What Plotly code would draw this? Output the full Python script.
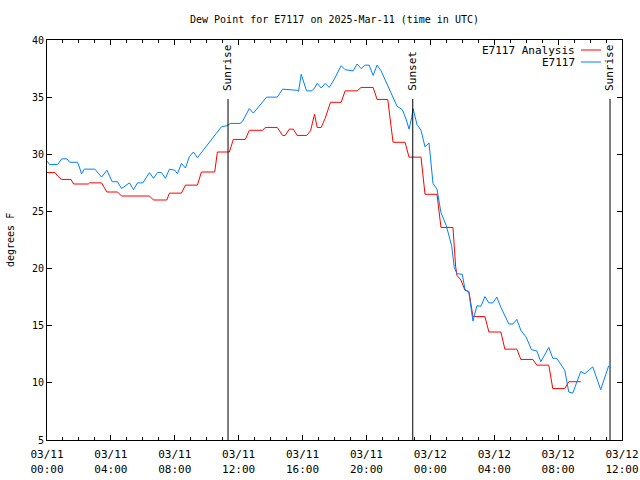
import plotly.graph_objects as go

# ---------------- data ----------------
obs_times = [
    "2025-03-11 00:00", "2025-03-11 00:10", "2025-03-11 00:40", "2025-03-11 00:55",
    "2025-03-11 01:15", "2025-03-11 01:25", "2025-03-11 01:55", "2025-03-11 02:10",
    "2025-03-11 02:20", "2025-03-11 03:00", "2025-03-11 03:25", "2025-03-11 03:45",
    "2025-03-11 04:05", "2025-03-11 04:25", "2025-03-11 04:40", "2025-03-11 05:10",
    "2025-03-11 05:25", "2025-03-11 05:40", "2025-03-11 06:00", "2025-03-11 06:25",
    "2025-03-11 06:40", "2025-03-11 06:55", "2025-03-11 07:10", "2025-03-11 07:25",
    "2025-03-11 07:40", "2025-03-11 08:00", "2025-03-11 08:10", "2025-03-11 08:25",
    "2025-03-11 08:40", "2025-03-11 08:55", "2025-03-11 09:10", "2025-03-11 09:25",
    "2025-03-11 09:45", "2025-03-11 10:10", "2025-03-11 10:35", "2025-03-11 10:55",
    "2025-03-11 11:15", "2025-03-11 11:30", "2025-03-11 12:05", "2025-03-11 12:15",
    "2025-03-11 12:40", "2025-03-11 12:55", "2025-03-11 13:20", "2025-03-11 13:45",
    "2025-03-11 14:25", "2025-03-11 14:45", "2025-03-11 15:40", "2025-03-11 15:45",
    "2025-03-11 15:55", "2025-03-11 16:15", "2025-03-11 16:35", "2025-03-11 16:45",
    "2025-03-11 16:55", "2025-03-11 17:10", "2025-03-11 17:25", "2025-03-11 17:40",
    "2025-03-11 18:00", "2025-03-11 18:25", "2025-03-11 18:40", "2025-03-11 19:10",
    "2025-03-11 19:25", "2025-03-11 19:40", "2025-03-11 19:55", "2025-03-11 20:10",
    "2025-03-11 20:25", "2025-03-11 20:40", "2025-03-11 20:55", "2025-03-11 21:25",
    "2025-03-11 21:55", "2025-03-11 22:15", "2025-03-11 22:30", "2025-03-11 22:40",
    "2025-03-11 22:50", "2025-03-11 22:55", "2025-03-11 23:10", "2025-03-11 23:25",
    "2025-03-11 23:40", "2025-03-11 23:55", "2025-03-12 00:10", "2025-03-12 00:25",
    "2025-03-12 00:35", "2025-03-12 00:40", "2025-03-12 01:00", "2025-03-12 01:20",
    "2025-03-12 01:30", "2025-03-12 01:40", "2025-03-12 02:00", "2025-03-12 02:10",
    "2025-03-12 02:25", "2025-03-12 02:40", "2025-03-12 02:55", "2025-03-12 03:10",
    "2025-03-12 03:25", "2025-03-12 03:40", "2025-03-12 03:55", "2025-03-12 04:10",
    "2025-03-12 04:25", "2025-03-12 04:40", "2025-03-12 04:55", "2025-03-12 05:10",
    "2025-03-12 05:25", "2025-03-12 05:40", "2025-03-12 06:00", "2025-03-12 06:20",
    "2025-03-12 06:40", "2025-03-12 06:55", "2025-03-12 07:25", "2025-03-12 07:40",
    "2025-03-12 07:55", "2025-03-12 08:25", "2025-03-12 08:40", "2025-03-12 08:55",
    "2025-03-12 09:25", "2025-03-12 09:40", "2025-03-12 10:10", "2025-03-12 10:40",
    "2025-03-12 11:10",
]
obs_dewpoint = [
    29.4, 29.1, 29.1, 29.6,
    29.6, 29.3, 29.3, 28.3,
    28.7, 28.7, 28.0, 28.6,
    27.6, 27.6, 27.0, 27.5,
    26.9, 27.5, 27.5, 28.4,
    27.9, 28.4, 28.4, 27.9,
    28.7, 28.6, 28.3, 29.2,
    28.8, 29.8, 30.2, 29.7,
    30.3, 31.0, 31.8, 32.4,
    32.5, 32.7, 32.7, 32.9,
    34.0, 33.6, 34.3, 35.0,
    35.0, 35.7, 35.6, 35.5,
    37.0, 35.55, 35.55, 35.8,
    36.2, 35.8, 36.2, 35.85,
    36.6, 37.75, 37.4, 37.3,
    37.9, 37.5, 37.8, 37.8,
    36.9, 37.8, 37.3, 35.8,
    34.2, 33.9, 33.0, 32.2,
    33.2, 34.0, 32.6, 32.1,
    30.65, 31.0, 27.45, 26.95,
    25.4, 24.9, 23.75, 22.0,
    20.1, 19.55, 19.5, 18.2,
    17.85, 15.4, 16.75, 16.7,
    17.55, 17.0, 17.0, 17.5,
    16.6, 15.9, 15.15, 15.15,
    15.55, 14.6, 14.0, 12.9,
    12.8, 11.85, 13.1, 12.15,
    12.15, 11.1, 9.2, 9.1,
    11.0, 10.8, 11.4, 9.4,
    11.5,
]

ana_times = [
    "2025-03-11 00:00", "2025-03-11 00:30", "2025-03-11 00:40", "2025-03-11 00:55",
    "2025-03-11 01:30", "2025-03-11 01:40", "2025-03-11 02:35", "2025-03-11 02:40",
    "2025-03-11 03:25", "2025-03-11 03:45", "2025-03-11 04:25", "2025-03-11 04:40",
    "2025-03-11 06:25", "2025-03-11 06:40", "2025-03-11 07:30", "2025-03-11 07:40",
    "2025-03-11 08:25", "2025-03-11 08:40", "2025-03-11 09:25", "2025-03-11 09:40",
    "2025-03-11 10:30", "2025-03-11 10:40", "2025-03-11 11:25", "2025-03-11 11:40",
    "2025-03-11 12:25", "2025-03-11 12:40", "2025-03-11 13:30", "2025-03-11 13:40",
    "2025-03-11 14:25", "2025-03-11 14:45", "2025-03-11 14:55", "2025-03-11 15:10",
    "2025-03-11 15:25", "2025-03-11 15:40", "2025-03-11 16:15", "2025-03-11 16:30",
    "2025-03-11 16:45", "2025-03-11 16:55", "2025-03-11 17:10", "2025-03-11 17:25",
    "2025-03-11 17:45", "2025-03-11 18:25", "2025-03-11 18:40", "2025-03-11 19:25",
    "2025-03-11 19:40", "2025-03-11 20:25", "2025-03-11 20:40", "2025-03-11 21:20",
    "2025-03-11 21:40", "2025-03-11 22:25", "2025-03-11 22:40", "2025-03-11 23:25",
    "2025-03-11 23:40", "2025-03-12 00:25", "2025-03-12 00:40", "2025-03-12 01:25",
    "2025-03-12 01:35", "2025-03-12 01:40", "2025-03-12 01:55", "2025-03-12 02:10",
    "2025-03-12 02:25", "2025-03-12 02:40", "2025-03-12 03:25", "2025-03-12 03:40",
    "2025-03-12 04:25", "2025-03-12 04:40", "2025-03-12 05:25", "2025-03-12 05:40",
    "2025-03-12 06:25", "2025-03-12 06:40", "2025-03-12 07:25", "2025-03-12 07:40",
    "2025-03-12 08:25", "2025-03-12 08:40", "2025-03-12 09:25",
]
ana_dewpoint = [
    28.4, 28.4, 28.1, 27.8,
    27.8, 27.4, 27.4, 27.5,
    27.5, 26.7, 26.7, 26.35,
    26.35, 26.0, 26.0, 26.6,
    26.6, 27.3, 27.3, 28.45,
    28.45, 30.2, 30.2, 31.3,
    31.3, 32.1, 32.1, 32.35,
    32.35, 31.65, 31.65, 32.2,
    32.2, 31.65, 31.65, 32.05,
    33.5, 32.35, 32.35, 33.15,
    34.55, 34.55, 35.55, 35.55,
    35.85, 35.85, 34.8, 34.8,
    31.05, 31.05, 29.75, 29.75,
    26.5, 26.5, 23.6, 23.6,
    20.2, 19.4, 19.0, 18.1,
    18.0, 15.8, 15.8, 14.45,
    14.45, 12.95, 12.95, 12.05,
    12.05, 11.55, 11.55, 9.5,
    9.5, 10.1, 10.1,
]

sun_event_times = ["2025-03-11 11:20", "2025-03-11 22:54", "2025-03-12 11:15"]
sun_event_labels = ["Sunrise", "Sunset", "Sunrise"]

x_tick_vals = ["2025-03-11 00:00", "2025-03-11 04:00", "2025-03-11 08:00",
               "2025-03-11 12:00", "2025-03-11 16:00", "2025-03-11 20:00",
               "2025-03-12 00:00", "2025-03-12 04:00", "2025-03-12 08:00",
               "2025-03-12 12:00"]
x_tick_text = ["03/11<br>00:00", "03/11<br>04:00", "03/11<br>08:00",
               "03/11<br>12:00", "03/11<br>16:00", "03/11<br>20:00",
               "03/12<br>00:00", "03/12<br>04:00", "03/12<br>08:00",
               "03/12<br>12:00"]
y_tick_vals = [5, 10, 15, 20, 25, 30, 35, 40]

series_names = ["E7117 Analysis", "E7117"]
series_colors = ["#ff0000", "#0080ff"]

# ---------------- figure ----------------
FONT = "DejaVu Sans Mono"
W, H = 640, 480
L, R, T, B = 47, 18, 40, 40
pw, ph = W - L - R, H - T - B


def px_x(p):
    return (p - L) / pw


def px_y(p):
    return (H - B - p) / ph


fig = go.Figure()
fig.add_trace(go.Scatter(x=ana_times, y=ana_dewpoint, mode="lines",
                         name=series_names[0],
                         line=dict(color=series_colors[0], width=1)))
fig.add_trace(go.Scatter(x=obs_times, y=obs_dewpoint, mode="lines",
                         name=series_names[1],
                         line=dict(color=series_colors[1], width=1)))

shapes = []
annotations = []
for t, lab in zip(sun_event_times, sun_event_labels):
    shapes.append(dict(type="line", xref="x", yref="paper", x0=t, x1=t,
                       y0=0, y1=px_y(99), line=dict(color="black", width=1)))
    annotations.append(dict(x=t, y=px_y(93), xref="x", yref="paper",
                            text=lab, textangle=-90, showarrow=False,
                            xanchor="center", yanchor="bottom",
                            font=dict(family=FONT, size=11, color="black")))

# manual legend (text left, line sample right)
legend_rows = [50, 62]
for name, col, ypix in zip(series_names, series_colors, legend_rows):
    annotations.append(dict(x=px_x(577), y=px_y(ypix), xref="paper", yref="paper",
                            text=name, showarrow=False, xanchor="right",
                            yanchor="middle",
                            font=dict(family=FONT, size=11, color="black")))
    shapes.append(dict(type="line", xref="paper", yref="paper",
                       x0=px_x(581), x1=px_x(601), y0=px_y(ypix), y1=px_y(ypix),
                       line=dict(color=col, width=1)))

annotations.append(dict(x=px_x(10), y=0.5, xref="paper", yref="paper",
                        text="degrees F", textangle=-90, showarrow=False,
                        xanchor="center", yanchor="middle",
                        font=dict(family=FONT, size=10, color="black")))

fig.update_layout(
    width=W, height=H,
    margin=dict(l=L, r=R, t=T, b=B, autoexpand=False),
    paper_bgcolor="white", plot_bgcolor="white",
    showlegend=False,
    title=dict(text="Dew Point for E7117 on 2025-Mar-11 (time in UTC)",
               x=0.5, xref="paper", xanchor="center",
               y=1 - 19 / H, yref="container", yanchor="middle",
               font=dict(family=FONT, size=10, color="black")),
    font=dict(family=FONT, size=10, color="black"),
    shapes=shapes, annotations=annotations,
    xaxis=dict(type="date", range=["2025-03-11 00:00", "2025-03-12 12:00"],
               automargin=False,
               tickmode="array", tickvals=x_tick_vals, ticktext=x_tick_text,
               ticks="inside", ticklen=5, tickcolor="black", tickwidth=1,
               ticklabelstandoff=4,
               minor=dict(dtick=3600000, ticks="inside", ticklen=3,
                          tickcolor="black", showgrid=False),
               showline=True, linecolor="black", linewidth=1, mirror="allticks",
               showgrid=False, zeroline=False,
               tickfont=dict(family=FONT, size=11, color="black")),
    yaxis=dict(range=[5, 40], tickmode="array", tickvals=y_tick_vals,
               automargin=False,
               ticks="inside", ticklen=5, tickcolor="black", tickwidth=1,
               showline=True, linecolor="black", linewidth=1, mirror="allticks",
               showgrid=False, zeroline=False,
               tickfont=dict(family=FONT, size=10, color="black")),
)

fig.write_html("out.html")
